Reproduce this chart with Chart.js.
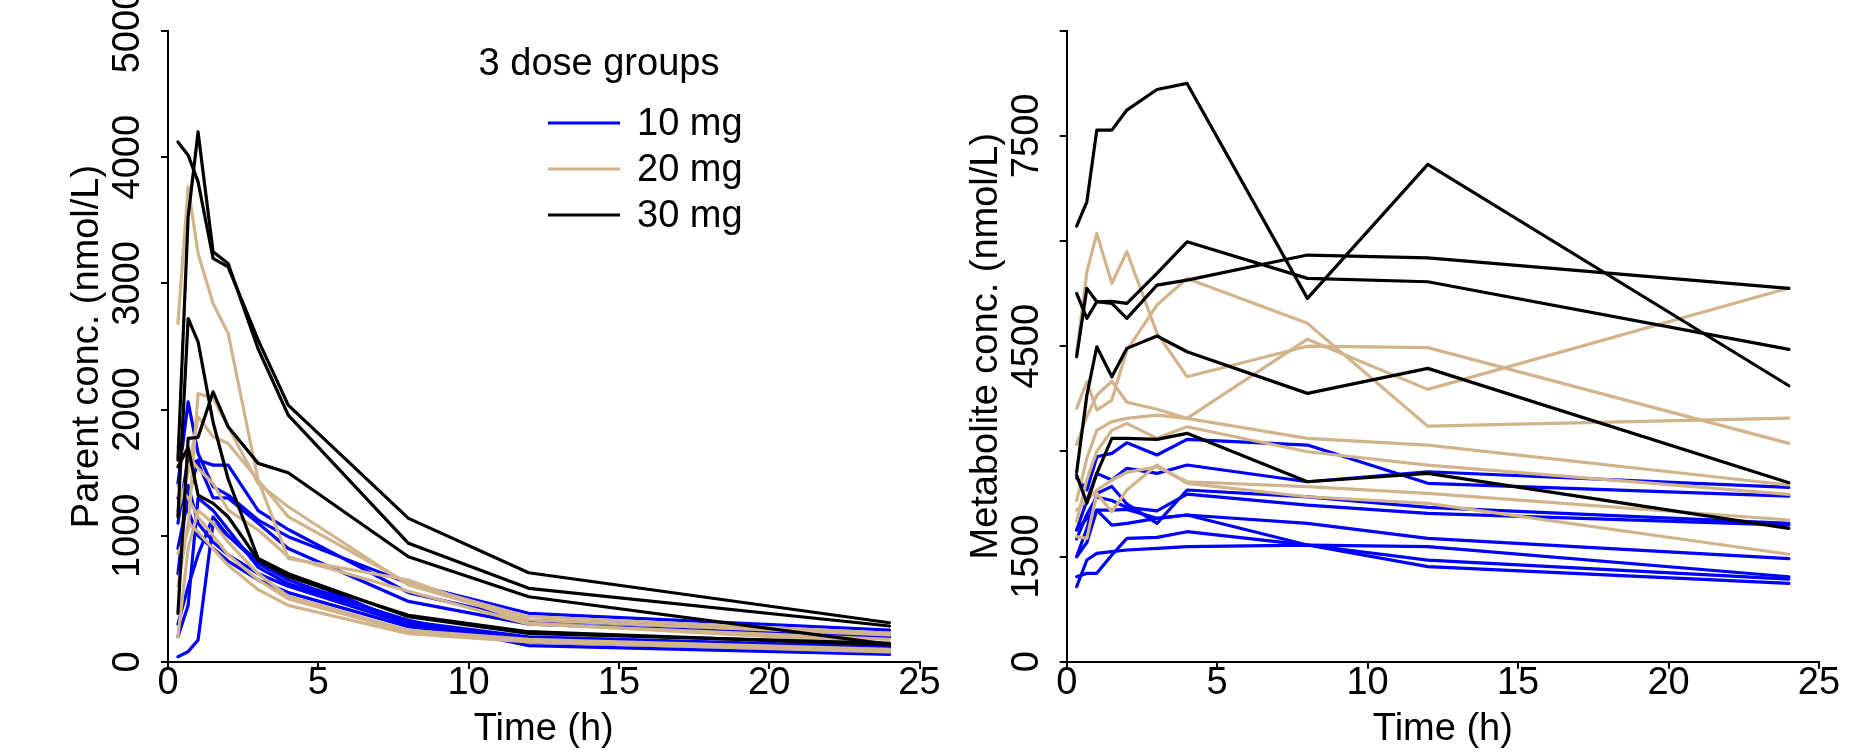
<!DOCTYPE html>
<html>
<head>
<meta charset="utf-8">
<script src="https://cdn.jsdelivr.net/npm/chart.js@4.4.0/dist/chart.umd.min.js"></script>
<style>
  html, body { margin: 0; padding: 0; background: #ffffff; }
  #wrap { position: relative; width: 1872px; height: 755px; overflow: hidden; }
  canvas { position: absolute; top: 0; }
</style>
</head>
<body>
<div id="wrap">
  <canvas id="parentChart" width="980" height="755" style="left:0px"></canvas>
  <canvas id="metabChart" width="936" height="755" style="left:936px"></canvas>
</div>
<script>
// ---------------- DATA ----------------
const times = [0.33, 0.67, 1, 1.5, 2, 3, 4, 8, 12, 24];

const doseGroups = ['10 mg', '20 mg', '30 mg'];
const legendTitle = '3 dose groups';

// Parent concentration (nmol/L), one row per subject
const parent10mg = [
  [1415, 2062, 1653, 1389, 1323, 1125, 993, 623, 386, 253],
  [900, 1300, 1600, 1560, 1560, 1200, 1050, 550, 330, 220],
  [1100, 1620, 1580, 1300, 1300, 1100, 900, 480, 300, 200],
  [42, 82, 174, 1099, 1000, 800, 700, 300, 190, 110],
  [300, 600, 850, 1150, 1000, 780, 650, 320, 200, 120],
  [1300, 1200, 1000, 900, 800, 650, 550, 280, 170, 100],
  [700, 1400, 1100, 950, 850, 700, 600, 300, 160, 80],
  [200, 450, 1300, 1200, 1050, 750, 620, 330, 130, 60]
];
const parent20mg = [
  [2683, 3765, 3237, 2841, 2604, 1440, 821, 650, 307, 150],
  [861, 1046, 2128, 2089, 1864, 1415, 1230, 610, 333, 214],
  [1200, 1500, 1943, 1785, 1732, 1442, 1151, 623, 359, 230],
  [1705, 1626, 1534, 1415, 1204, 1046, 834, 560, 300, 180],
  [600, 1100, 1030, 897, 766, 573, 449, 224, 160, 80],
  [200, 900, 1200, 1100, 950, 700, 520, 250, 180, 100],
  [1400, 1300, 1150, 1000, 850, 650, 500, 240, 170, 90]
];
const parent30mg = [
  [4121, 4016, 3805, 3198, 3131, 2550, 2036, 1138, 707, 311],
  [1600, 3527, 4200, 3250, 3158, 2480, 1956, 940, 584, 285],
  [1150, 2722, 2537, 1900, 1450, 820, 700, 359, 227, 148],
  [386, 1772, 1780, 2141, 1864, 1574, 1500, 834, 517, 140],
  [1547, 1700, 1323, 1257, 1151, 808, 676, 370, 240, 135]
];

// Metabolite concentration (nmol/L), one row per subject
const metab10mg = [
  [2620, 2450, 2923, 2972, 3123, 2948, 3171, 3090, 2544, 2363],
  [1878, 2300, 2686, 2591, 2758, 2686, 2805, 2567, 2709, 2487],
  [1500, 1900, 2400, 2500, 2250, 1973, 2449, 2350, 2200, 1973],
  [1750, 2100, 2350, 2300, 2200, 2150, 2391, 2234, 2116, 1949],
  [1878, 2045, 2163, 1949, 1973, 2045, 2092, 1973, 1760, 1469],
  [1497, 1700, 2163, 2163, 2173, 2045, 2092, 1664, 1450, 1179],
  [1070, 1450, 1546, 1569, 1593, 1617, 1640, 1664, 1640, 1212],
  [1212, 1260, 1260, 1522, 1760, 1774, 1854, 1664, 1355, 1118]
];
const metab20mg = [
  [4398, 5561, 6109, 5396, 5847, 4687, 4064, 4500, 4480, 3114],
  [3613, 3993, 3589, 3732, 4445, 5087, 5467, 4826, 3359, 3475],
  [3100, 3500, 3800, 4000, 3700, 3600, 3471, 4600, 3884, 5330],
  [2300, 2900, 3300, 3423, 3471, 3518, 3471, 3186, 3090, 2520],
  [2000, 2600, 3000, 3300, 3399, 3186, 3351, 2995, 2805, 2387],
  [2163, 2300, 2449, 2591, 2700, 2781, 2567, 2496, 2401, 2021],
  [1783, 1760, 2401, 2139, 2449, 2805, 2544, 2353, 2259, 1532]
];
const metab30mg = [
  [6213, 6560, 7582, 7582, 7868, 8162, 8248, 5182, 7093, 3936],
  [5253, 4897, 5134, 5111, 4897, 5372, 5443, 5800, 5761, 5325],
  [4349, 5325, 5134, 5140, 5111, 5538, 5989, 5467, 5419, 4455],
  [2700, 3800, 4492, 4064, 4469, 4645, 4421, 3827, 4184, 2553],
  [2662, 2259, 2686, 3186, 3186, 3171, 3257, 2567, 2686, 1902]
];

// Tick values / labels
const xTickValues = [0, 5, 10, 15, 20, 25];
const parentTickValues = [0, 1000, 2000, 3000, 4000, 5000];
const parentTickLabels = ['0', '1000', '2000', '3000', '4000', '5000'];
const metabTickValues = [0, 1500, 3000, 4500, 6000, 7500, 9000];
const metabTickLabels = ['0', '1500', '', '4500', '', '7500', ''];

// ---------------- STYLE ----------------
const COLORS = ['#0000ff', '#d2b48c', '#000000'];
const FONT = '"Liberation Sans", Arial, Helvetica, sans-serif';
const FSIZE = 38;

function measureWidest(labels) {
  const c = document.createElement('canvas').getContext('2d');
  c.font = FSIZE + 'px ' + FONT;
  return Math.max(...labels.map(l => c.measureText(l).width));
}

function makeDatasets(groups) {
  const ds = [];
  groups.forEach((g, gi) => {
    g.forEach(series => {
      ds.push({
        data: series.map((v, i) => ({ x: times[i], y: v })),
        borderColor: COLORS[gi],
        backgroundColor: COLORS[gi],
        borderWidth: 3.2,
        pointRadius: 0,
        tension: 0,
        fill: false,
        borderJoinStyle: 'round',
        borderCapStyle: 'round',
        order: 2 - gi
      });
    });
  });
  return ds;
}

function makeChart(canvasId, groups, cfg) {
  const widest = measureWidest(cfg.yLabels.filter(l => l !== ''));
  const yPad = cfg.axisX - cfg.labelCenterX - 7 - widest / 2;
  return new Chart(document.getElementById(canvasId), {
    type: 'line',
    data: { datasets: makeDatasets(groups) },
    options: {
      responsive: false,
      animation: false,
      events: [],
      layout: { padding: { left: 0, right: cfg.padRight, top: cfg.padTop, bottom: 0 } },
      plugins: { legend: { display: false }, tooltip: { enabled: false } },
      scales: {
        x: {
          type: 'linear', min: 0, max: 25,
          afterBuildTicks: s => { s.ticks = xTickValues.map(v => ({ value: v })); },
          ticks: {
            autoSkip: false, maxRotation: 0, minRotation: 0, padding: -8,
            color: '#000', font: { family: FONT, size: FSIZE },
            callback: v => String(v)
          },
          grid: { drawOnChartArea: false, drawTicks: true, tickLength: 7, color: '#000', lineWidth: 2 },
          border: { display: true, color: '#000', width: 2 },
          title: { display: true, text: 'Time (h)', color: '#000', font: { family: FONT, size: FSIZE }, padding: { top: 0, bottom: 3 } },
          afterFit: s => { s.height = 755 - cfg.bottomY; s.paddingLeft = 0; s.paddingRight = 0; }
        },
        y: {
          type: 'linear', min: 0, max: cfg.yMax,
          afterBuildTicks: s => { s.ticks = cfg.yValues.map(v => ({ value: v })); },
          ticks: {
            autoSkip: false, minRotation: 90, maxRotation: 90, crossAlign: 'center', padding: yPad,
            color: '#000', font: { family: FONT, size: FSIZE },
            callback: (v) => { const k = cfg.yValues.indexOf(v); return k >= 0 ? cfg.yLabels[k] : ''; }
          },
          grid: { drawOnChartArea: false, drawTicks: true, tickLength: 7, color: '#000', lineWidth: 2 },
          border: { display: true, color: '#000', width: 2 },
          title: { display: true, text: cfg.yTitle, color: '#000', font: { family: FONT, size: FSIZE }, padding: { top: cfg.titleCenterX - FSIZE * 0.6, bottom: 0 } },
          afterFit: s => { s.width = cfg.axisX; s.paddingTop = 0; s.paddingBottom = 0; }
        }
      }
    },
    plugins: cfg.plugins || []
  });
}

const legendPlugin = {
  id: 'doseLegend',
  afterDraw(chart) {
    const ctx = chart.ctx;
    ctx.save();
    ctx.fillStyle = '#000';
    ctx.font = FSIZE + 'px ' + FONT;
    ctx.textBaseline = 'middle';
    ctx.textAlign = 'center';
    ctx.fillText(legendTitle, 599, 65);
    doseGroups.forEach((g, i) => {
      const y = 123 + i * 46;
      ctx.strokeStyle = COLORS[i];
      ctx.lineWidth = 3.2;
      ctx.beginPath();
      ctx.moveTo(548, y);
      ctx.lineTo(620, y);
      ctx.stroke();
      ctx.textAlign = 'left';
      ctx.fillText(g, 637, y + 2);
    });
    ctx.restore();
  }
};

makeChart('parentChart', [parent10mg, parent20mg, parent30mg], {
  axisX: 168, labelCenterX: 129, titleCenterX: 88,
  padRight: 980 - 919.5, padTop: 31, bottomY: 662,
  yMax: 5000, yValues: parentTickValues, yLabels: parentTickLabels,
  yTitle: 'Parent conc. (nmol/L)', plugins: [legendPlugin]
});

makeChart('metabChart', [metab10mg, metab20mg, metab30mg], {
  axisX: 130.7, labelCenterX: 91.5, titleCenterX: 51,
  padRight: 936 - 883, padTop: 30.7, bottomY: 661.7,
  yMax: 9000, yValues: metabTickValues, yLabels: metabTickLabels,
  yTitle: 'Metabolite conc. (nmol/L)'
});
</script>
</body>
</html>
